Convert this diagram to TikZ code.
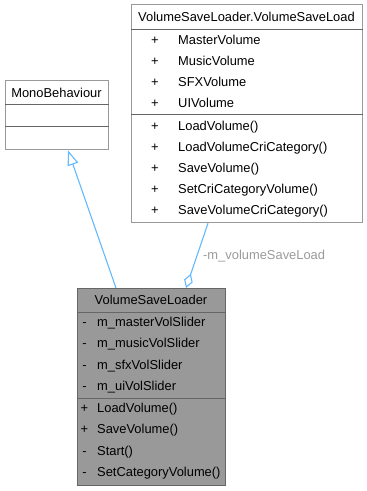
\documentclass[tikz,border=0pt]{standalone}
\usepackage{fontspec}
\setmainfont{Liberation Sans}
\usetikzlibrary{arrows.meta,calc}
\definecolor{edgeblue}{HTML}{63B8FF}
\definecolor{boxline}{HTML}{999999}
\definecolor{sepline}{HTML}{666666}
\definecolor{selfill}{HTML}{999999}
\definecolor{labelgray}{HTML}{9A9A9A}

\begin{document}
\begin{tikzpicture}[x=1pt,y=-1pt,
  font=\fontsize{12.9pt}{15pt}\selectfont,
  classbox/.style={draw=boxline, fill=white, line width=1.3pt, inner sep=0pt, anchor=north west},
  selbox/.style={classbox, fill=selfill, draw=sepline},
  txt/.style={inner sep=0pt, text height=9.2pt, text depth=0pt},
  member/.style={txt, anchor=west},
  vis/.style={txt, anchor=center},
  sep/.style={draw=sepline, line width=1pt},
  inherit/.style={draw=edgeblue, line width=1.1pt, -{Triangle[open, length=15pt, width=11pt]}},
  aggreg/.style={draw=edgeblue, line width=1.1pt, -{Diamond[open, length=15pt, width=9pt]}},
]
\useasboundingbox (0,0) rectangle (367,491);

% ---- MonoBehaviour ----
\node[classbox, minimum width=103pt, minimum height=69pt] (mono) at (5,80) {};
\draw[sep] (mono.west |- 0,104) -- (mono.east |- 0,104);
\draw[sep] (mono.west |- 0,126) -- (mono.east |- 0,126);
\node[vis] (monoT) at (56.5,93) {MonoBehaviour};

% ---- VolumeSaveLoader.VolumeSaveLoad ----
\node[classbox, minimum width=231pt, minimum height=218pt] (vsl) at (131,4) {};
\draw[sep] (vsl.west |- 0,29) -- (vsl.east |- 0,29);
\draw[sep] (vsl.west |- 0,114) -- (vsl.east |- 0,114);
\node[vis] (vslT) at (246.5,17) {VolumeSaveLoader.VolumeSaveLoad};
\foreach \n/\y/\t in {a1/40/MasterVolume, a2/61/MusicVolume, a3/82/SFXVolume, a4/103/UIVolume,
                      m1/126/LoadVolume(), m2/147/LoadVolumeCriCategory(), m3/168/SaveVolume(),
                      m4/189/SetCriCategoryVolume(), m5/210/SaveVolumeCriCategory()}{
  \node[vis] (vsl\n v) at (155,\y) {+};
  \node[member] (vsl\n) at (178,\y) {\t};
}

% ---- VolumeSaveLoader ----
\node[selbox, minimum width=148pt, minimum height=197pt] (loader) at (77,288) {};
\draw[sep] (loader.west |- 0,312) -- (loader.east |- 0,312);
\draw[sep] (loader.west |- 0,398) -- (loader.east |- 0,398);
\node[vis] (loaderT) at (151,300) {VolumeSaveLoader};
\foreach \n/\y/\v/\t in {a1/322/-/m\_masterVolSlider, a2/343.3/-/m\_musicVolSlider,
                         a3/364.6/-/m\_sfxVolSlider, a4/386/-/m\_uiVolSlider,
                         m1/408/+/LoadVolume(), m2/429.3/+/SaveVolume(),
                         m3/450.6/-/Start(), m4/472/-/SetCategoryVolume()}{
  \node[vis] (loader\n v) at (84.5,\y) {\v};
  \node[member] (loader\n) at (97,\y) {\t};
}

% ---- connectors ----
\coordinate (inhTop) at ($(mono.south west)+(63,0)$);
\coordinate (inhBot) at ($(loader.north west)+(39,0)$);
\draw[inherit] (inhBot) -- (inhTop);

\coordinate (aggTop) at ($(vsl.south west)+(77,0)$);
\coordinate (aggBot) at ($(loader.north west)+(109,0)$);
\draw[aggreg] (aggTop) -- (aggBot);
\node[member, text=labelgray] (aggLabel) at (203,255) {-m\_volumeSaveLoad};
\end{tikzpicture}
\end{document}
